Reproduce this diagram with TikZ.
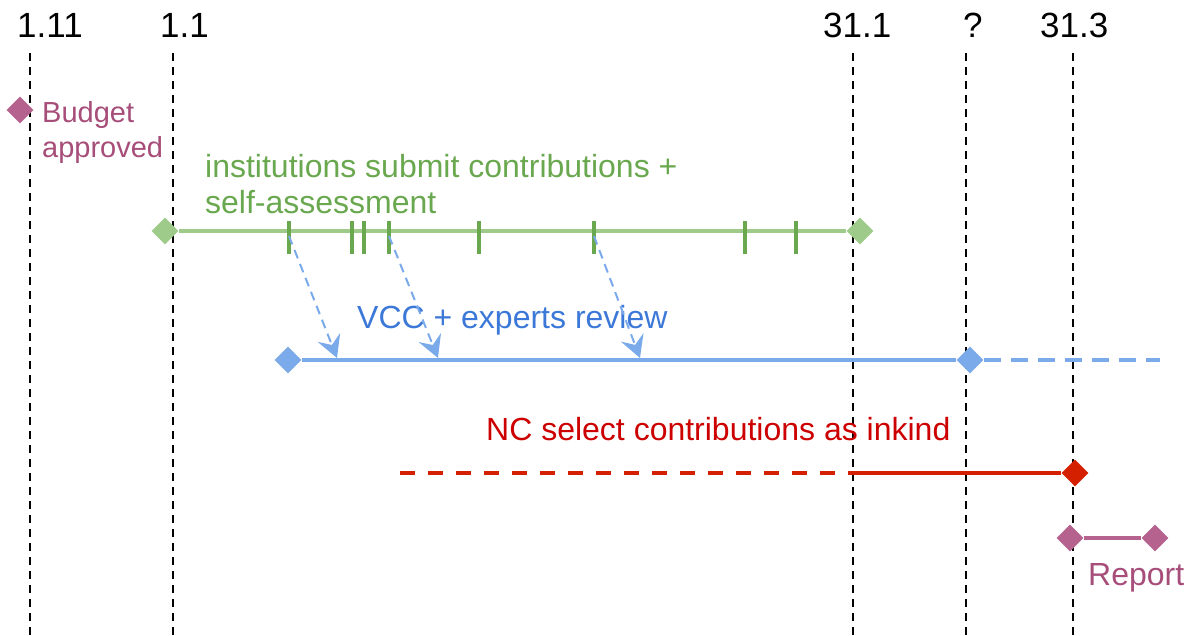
\documentclass[tikz,border=0pt]{standalone}
\usepackage{fontspec}
\setmainfont{Liberation Sans}
\usetikzlibrary{shapes.geometric,arrows.meta}

\definecolor{mauvetxt}{HTML}{A64D79}
\definecolor{mauve}{HTML}{B5628E}
\definecolor{subline}{HTML}{9ECB8A}
\definecolor{subtxt}{HTML}{6AA84F}
\definecolor{revline}{HTML}{7BAAEA}
\definecolor{revtxt}{HTML}{3C78D8}
\definecolor{nctxt}{HTML}{CC0000}
\definecolor{ncline}{HTML}{D52000}

\begin{document}
\begin{tikzpicture}[x=1pt,y=-1pt,
    txt/.style={font=\fontsize{32}{36}\selectfont, inner sep=0pt},
    datelbl/.style={font=\fontsize{35}{42}\selectfont, inner sep=0pt, anchor=base west},
    dateline/.style={dash pattern=on 8pt off 6pt, line width=1.6pt},
    milestone/.style={diamond, fill=#1, inner sep=0pt, minimum size=27pt},
    phase/.style={line width=4pt, #1},
    subtick/.style={line width=3.5pt, subtxt},
    review/.style={revline, line width=2pt, dash pattern=on 9pt off 6pt,
        -{Stealth[length=22pt,width=24pt,inset=8pt]}}
]
\useasboundingbox (0,0) rectangle (1192,635);

% dates
\node[datelbl] (d111) at (17,37) {1.11};
\node[datelbl] (d11) at (160,37) {1.1};
\node[datelbl] (d311) at (823,37) {31.1};
\node[datelbl] (dq) at (963,37) {?};
\node[datelbl] (d313) at (1040,37) {31.3};
\foreach \x in {30,173,853,966,1073}
    \draw[dateline] (\x,53) -- (\x,635);

% budget
\node[milestone=mauve] (budget) at (20,110) {};
\node[txt, font=\fontsize{29}{35.5}\selectfont, mauvetxt, anchor=north west, align=left]
    (budgetlbl) at (42,101) {Budget\\approved};

% submissions
\node[txt, subtxt, anchor=north west, align=left] (sublbl) at (205,154)
    {institutions submit contributions +\\self-assessment};
\node[milestone=subline] (subs) at (165,231) {};
\node[milestone=subline] (sube) at (860,231) {};
\draw[phase=subline] (subs) -- (sube);
\foreach \x [count=\i] in {289,352,364,389,479,594,745,796} {
    \draw[subtick] (\x,221) -- (\x,254);
    \coordinate (t\i) at (\x,236);
}

% review
\node[txt, revtxt, anchor=base west] (revlbl) at (357,328) {VCC + experts review};
\node[milestone=revline] (revs) at (288,360) {};
\node[milestone=revline] (reve) at (970,360) {};
\coordinate (revx) at (1160,360);
\draw[phase=revline] (revs) -- (reve);
\draw[phase=revline, dash pattern=on 17pt off 10pt] (reve) -- (revx);
\coordinate (r1) at (337,358);
\coordinate (r4) at (438,358);
\coordinate (r6) at (640,358);
\draw[review] (t1) -- (r1);
\draw[review] (t4) -- (r4);
\draw[review] (t6) -- (r6);

% selection
\node[txt, nctxt, anchor=base west] (ncl) at (486,440) {NC select contributions as inkind};
\node[milestone=ncline] (sel) at (1075,473) {};
\coordinate (sels) at (400,473);
\coordinate (selm) at (853,473);
\draw[phase=ncline, dash pattern=on 15pt off 13pt] (sels) -- (selm);
\draw[phase=ncline] (selm) -- (sel);

% report
\node[milestone=mauve] (reps) at (1070,538) {};
\node[milestone=mauve] (repe) at (1155,538) {};
\draw[phase=mauve, line width=3.5pt] (reps) -- (repe);
\node[txt, mauvetxt, anchor=base west] (replbl) at (1088,585) {Report};
\end{tikzpicture}
\end{document}
